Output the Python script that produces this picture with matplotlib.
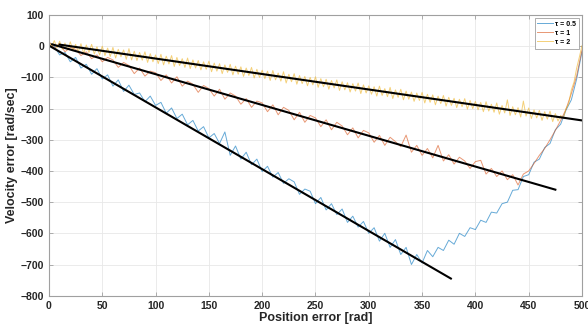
import matplotlib
matplotlib.use('Agg')
import matplotlib.pyplot as plt

plt.rcParams['font.family'] = ['Liberation Sans', 'DejaVu Sans']
plt.rcParams['font.weight'] = 'bold'

# position error samples [rad]
pos = [0, 5, 10, 15, 20, 25, 30, 35, 40, 45, 50, 55, 60, 65, 70, 75, 80, 85, 90, 95,
       100, 105, 110, 115, 120, 125, 130, 135, 140, 145, 150, 155, 160, 165, 170, 175, 180, 185, 190, 195,
       200, 205, 210, 215, 220, 225, 230, 235, 240, 245, 250, 255, 260, 265, 270, 275, 280, 285, 290, 295,
       300, 305, 310, 315, 320, 325, 330, 335, 340, 345, 350, 355, 360, 365, 370, 375, 380, 385, 390, 395,
       400, 405, 410, 415, 420, 425, 430, 435, 440, 445, 450, 455, 460, 465, 470, 475, 480, 485, 490, 495, 500]

# finer samples for the tau = 2 run
pos_fine = [0, 2.5, 5, 7.5, 10, 12.5, 15, 17.5, 20, 22.5, 25, 27.5, 30, 32.5, 35, 37.5, 40, 42.5, 45, 47.5,
            50, 52.5, 55, 57.5, 60, 62.5, 65, 67.5, 70, 72.5, 75, 77.5, 80, 82.5, 85, 87.5, 90, 92.5, 95, 97.5,
            100, 102.5, 105, 107.5, 110, 112.5, 115, 117.5, 120, 122.5, 125, 127.5, 130, 132.5, 135, 137.5, 140, 142.5, 145, 147.5,
            150, 152.5, 155, 157.5, 160, 162.5, 165, 167.5, 170, 172.5, 175, 177.5, 180, 182.5, 185, 187.5, 190, 192.5, 195, 197.5,
            200, 202.5, 205, 207.5, 210, 212.5, 215, 217.5, 220, 222.5, 225, 227.5, 230, 232.5, 235, 237.5, 240, 242.5, 245, 247.5,
            250, 252.5, 255, 257.5, 260, 262.5, 265, 267.5, 270, 272.5, 275, 277.5, 280, 282.5, 285, 287.5, 290, 292.5, 295, 297.5,
            300, 302.5, 305, 307.5, 310, 312.5, 315, 317.5, 320, 322.5, 325, 327.5, 330, 332.5, 335, 337.5, 340, 342.5, 345, 347.5,
            350, 352.5, 355, 357.5, 360, 362.5, 365, 367.5, 370, 372.5, 375, 377.5, 380, 382.5, 385, 387.5, 390, 392.5, 395, 397.5,
            400, 402.5, 405, 407.5, 410, 412.5, 415, 417.5, 420, 422.5, 425, 427.5, 430, 432.5, 435, 437.5, 440, 442.5, 445, 447.5,
            450, 452.5, 455, 457.5, 460, 462.5, 465, 467.5, 470, 472.5, 475, 477.5, 480, 482.5, 485, 487.5, 490, 492.5, 495, 497.5, 500]

# velocity error [rad/sec], tau = 0.5
vel_05 = [12, 0, -28, -20, -50, -36, -70, -58, -90, -72, -105, -92, -128, -108, -145, -125, -155, -150, -178, -160,
          -190, -180, -215, -198, -232, -218, -252, -238, -272, -258, -294, -280, -312, -275, -350, -320, -362, -340, -380, -362,
          -402, -385, -420, -405, -440, -425, -435, -475, -458, -465, -505, -485, -525, -505, -540, -522, -565, -545, -580, -562,
          -600, -582, -625, -600, -645, -620, -668, -645, -700, -668, -695, -655, -675, -645, -655, -622, -635, -600, -610, -582,
          -588, -558, -565, -532, -535, -505, -500, -462, -460, -418, -412, -372, -362, -325, -312, -268, -250, -205, -172, -105, -18]

# tau = 1
vel_1 = [14, -6, 8, -18, -4, -10, -30, -18, -40, -28, -50, -36, -44, -68, -52, -62, -88, -70, -96, -80,
         -85, -110, -92, -118, -98, -128, -112, -122, -148, -126, -136, -160, -138, -170, -150, -160, -186, -168, -196, -176,
         -182, -210, -188, -220, -196, -206, -236, -212, -244, -222, -230, -258, -236, -268, -244, -256, -284, -262, -294, -270,
         -278, -308, -286, -318, -292, -306, -322, -285, -340, -318, -350, -328, -358, -318, -368, -348, -378, -356, -368, -392,
         -370, -366, -410, -392, -418, -400, -428, -412, -445, -410, -400, -376, -350, -328, -300, -270, -238, -202, -152, -95, -12]

# tau = 2
vel_2 = [15, -2, 18, -6, 16, -10, 10, -12, 14, -15, 6, -18, 8, -24, 4, -20, 6, -25, -2, -28,
         0, -30, -6, -33, -4, -38, -10, -34, -12, -42, -8, -44, -16, -46, -20, -45, -18, -52, -24, -50,
         -28, -56, -26, -60, -32, -57, -30, -65, -36, -62, -40, -68, -38, -72, -44, -70, -46, -76, -50, -74,
         -48, -82, -54, -80, -56, -88, -60, -84, -58, -92, -64, -90, -66, -97, -70, -94, -68, -102, -74, -100,
         -77, -104, -80, -110, -78, -108, -86, -112, -82, -118, -90, -114, -88, -122, -94, -120, -97, -127, -100, -124,
         -98, -132, -104, -130, -106, -138, -110, -134, -108, -142, -114, -140, -117, -147, -120, -144, -118, -152, -124, -150,
         -127, -154, -130, -160, -128, -158, -136, -162, -132, -168, -140, -164, -138, -172, -144, -170, -147, -177, -150, -174,
         -148, -182, -154, -180, -156, -188, -160, -184, -158, -192, -164, -190, -167, -197, -170, -194, -168, -202, -174, -200,
         -177, -204, -180, -210, -178, -208, -186, -212, -182, -218, -190, -214, -172, -222, -194, -220, -197, -227, -176, -224,
         -198, -232, -204, -230, -206, -238, -210, -234, -208, -242, -216, -240, -222, -232, -200, -185, -140, -115, -70, -35, 2]

# linear fits (end points)
fit_05_x = [0, 377]
fit_05_y = [2, -745]
fit_1_x = [3, 475]
fit_1_y = [6, -460]
fit_2_x = [10, 500]
fit_2_y = [5, -238]

fig = plt.figure(figsize=(5.88, 3.29), dpi=100)
ax = fig.add_axes([0.0833, 0.1012, 0.9065, 0.8532])

ax.plot(pos, vel_05, color=(0.0, 0.447, 0.741), lw=0.7, alpha=0.6, label='τ = 0.5')
ax.plot(pos, vel_1, color=(0.85, 0.325, 0.098), lw=0.7, alpha=0.6, label='τ = 1')
ax.plot(pos_fine, vel_2, color=(0.929, 0.694, 0.125), lw=0.7, alpha=0.6, label='τ = 2')
ax.plot(fit_05_x, fit_05_y, color='black', lw=1.5)
ax.plot(fit_1_x, fit_1_y, color='black', lw=1.5)
ax.plot(fit_2_x, fit_2_y, color='black', lw=1.5)

ax.set_xlim(0, 500)
ax.set_ylim(-800, 100)
ax.set_xticks(range(0, 501, 50))
ax.set_yticks(range(-800, 101, 100))
ax.grid(True, color='#e8e8e8', lw=0.6)
ax.set_axisbelow(True)
ax.tick_params(direction='in', length=3, width=0.6, colors='#a0a0a0', labelcolor='#262626',
               labelsize=7.5, top=True, right=True)
for lab in ax.get_xticklabels() + ax.get_yticklabels():
    lab.set_fontweight('bold')
for sp in ax.spines.values():
    sp.set_color('#a0a0a0')
    sp.set_linewidth(0.8)

ax.set_xlabel('Position error [rad]', fontsize=9, fontweight='bold', color='#262626', labelpad=1)
ax.set_ylabel('Velocity error [rad/sec]', fontsize=9, fontweight='bold', color='#262626', labelpad=2)

leg = ax.legend(loc='upper right', fancybox=False, framealpha=1, edgecolor='#a0a0a0',
                handlelength=2.2, handletextpad=0.4, borderpad=0.4, labelspacing=0.3,
                borderaxespad=0.4, prop={'weight': 'bold', 'size': 5})
leg.get_frame().set_linewidth(0.6)

fig.savefig('out.png', dpi=100)
